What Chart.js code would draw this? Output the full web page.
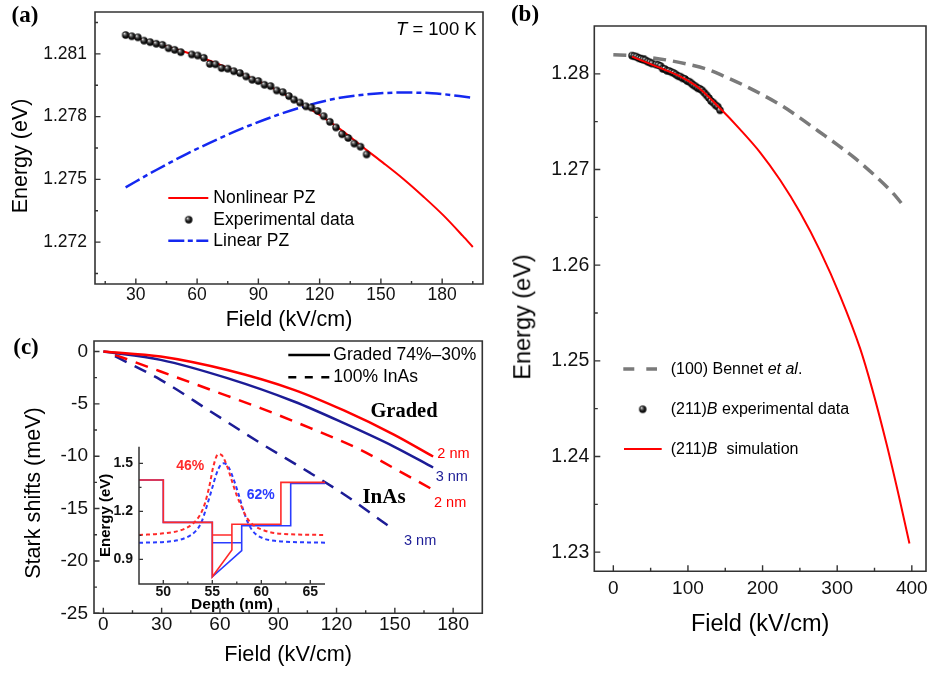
<!DOCTYPE html>
<html><head><meta charset="utf-8">
<script src="https://cdn.jsdelivr.net/npm/chart.js@4.4.1/dist/chart.umd.min.js"></script>
<style>
html,body{margin:0;padding:0;background:#fff;overflow:hidden;}
#wrap{position:relative;width:927px;height:677px;overflow:hidden;background:#fff;font-family:"Liberation Sans",Arial,sans-serif;color:#000;}
#wrap canvas{position:absolute;}
.t{position:absolute;white-space:nowrap;line-height:1;}
.serif{font-family:"Liberation Serif","Times New Roman",serif;font-weight:bold;}
.b{font-weight:bold;}
</style></head><body><div id="wrap">
<canvas id="ca" width="500" height="335" style="left:0;top:0"></canvas>
<canvas id="cb" width="460" height="677" style="left:500px;top:0"></canvas>
<canvas id="cc" width="500" height="347" style="left:0;top:330px"></canvas>
<canvas id="ci" width="235" height="175" style="left:95px;top:440px"></canvas>
</div>
<script>
// ---------- Panel (a) data ----------
const aExpField=[25,28,31,34,37,40,43,46,49,52,57.4,60.3,63.3,66.2,69,72,75,78,81,84,87,90,93,96,99,102,105,107.5,110.4,113.3,116,119,122,125,128,131,134,137,140,143];
const aExpEnergy=[1.28190,1.28184,1.28179,1.28163,1.28156,1.28148,1.28143,1.28127,1.28119,1.28108,1.28097,1.28092,1.28081,1.28052,1.28050,1.28032,1.28029,1.28017,1.28008,1.27992,1.27976,1.27970,1.27952,1.27946,1.27925,1.27917,1.27898,1.27881,1.27867,1.27849,1.27843,1.27827,1.27802,1.27775,1.27748,1.27716,1.27698,1.27671,1.27656,1.27619];
const aNlField=[25,40,60,80,100,113,120,130,143,151,161,171,180.5,190,195];
const aNlEnergy=[1.28190,1.28150,1.28090,1.28012,1.27922,1.27849,1.27808,1.27740,1.27640,1.27580,1.27502,1.27416,1.27329,1.27231,1.27177];
const aLinField=[25,40,55,70,85,100,115,130,145,160,175,195];
const aLinEnergy=[1.27462,1.27545,1.27622,1.27692,1.27755,1.27810,1.27856,1.27890,1.27908,1.27915,1.27912,1.27890];
const aXTicks=[30,60,90,120,150,180];
const aXLabels=['30','60','90','120','150','180'];
const aXMinor=[15,45,75,105,135,165,195];
const aYTicks=[1.272,1.275,1.278,1.281];
const aYLabels=['1.272','1.275','1.278','1.281'];
const aYMinor=[1.2705,1.2735,1.2765,1.2795,1.2825];

// ---------- Panel (b) data ----------
const bBennetField=[0,25,50,75,100,125,150,175,200,225,250,275,300,325,350,375,390];
const bBennetEnergy=[1.2820,1.2819,1.2817,1.2814,1.2810,1.2805,1.2797,1.2788,1.2778,1.2767,1.2754,1.2740,1.2726,1.2711,1.2694,1.2675,1.2661];
const bSimField=[25,60,90,115,143,169.8,196.6,223.5,250.3,277.1,303.9,330.7,346.4,366.5,384.3,396.8];
const bSimEnergy=[1.2818,1.2807,1.2797,1.2785,1.2764,1.2742,1.2718,1.2689,1.2655,1.2615,1.2568,1.2513,1.2472,1.2412,1.2353,1.2309];
const bXTicks=[0,100,200,300,400];
const bXLabels=['0','100','200','300','400'];
const bXMinor=[50,150,250,350];
const bYTicks=[1.23,1.24,1.25,1.26,1.27,1.28];
const bYLabels=['1.23','1.24','1.25','1.26','1.27','1.28'];
const bYMinor=[1.235,1.245,1.255,1.265,1.275];

// ---------- Panel (c) data ----------
const cGradedField=[0,29.5,63.8,98.1,123.8,149.5,169.7];
const cGraded2nm=[0,-0.48,-1.77,-3.66,-5.63,-7.93,-10.03];
const cGraded3nm=[0,-0.80,-2.55,-4.78,-6.85,-9.08,-11.08];
const cInAs2nmField=[6,29.5,55.2,80.9,106.6,132.3,149.5,169.7];
const cInAs2nm=[-0.32,-1.91,-3.66,-5.41,-7.32,-9.39,-11.14,-13.21];
const cInAs3nmField=[6,29.5,55.2,80.9,106.6,125.5,146.1,150];
const cInAs3nm=[-0.45,-2.71,-5.73,-8.76,-11.62,-13.85,-16.56,-17.04];
const cXTicks=[0,30,60,90,120,150,180];
const cXLabels=['0','30','60','90','120','150','180'];
const cXMinor=[15,45,75,105,135,165];
const cYTicks=[-25,-20,-15,-10,-5,0];
const cYLabels=['-25','-20','-15','-10','-5','0'];
const cYMinor=[-22.5,-17.5,-12.5,-7.5,-2.5];

// ---------- Inset data ----------
const iBand46Depth=[47.5,50,50,55,55,57,57,62,62,66.5];
const iBand46Energy=[1.396,1.396,1.131,1.131,0.791,0.958,1.119,1.119,1.381,1.381];
const iBand62Depth=[47.5,50,50,55,55,58,58,63,63,66.5];
const iBand62Energy=[1.396,1.396,1.131,1.131,0.791,0.954,1.110,1.110,1.375,1.375];
const iLevel46Depth=[55,57];
const iLevel46Energy=[1.052,1.052];
const iLevel62Depth=[55,58];
const iLevel62Energy=[1.004,1.004];
const iWave46Depth=[47.52,50.0,52.04,53.06,53.74,54.25,54.76,55.1,55.61,55.95,56.46,56.97,57.48,57.99,58.5,59.18,60.2,61.56,66.5];
const iWave46Energy=[1.052,1.0625,1.0875,1.125,1.177,1.25,1.375,1.479,1.558,1.552,1.49,1.396,1.302,1.229,1.1625,1.115,1.083,1.0625,1.052];
const iWave62Depth=[47.52,50.34,52.38,53.4,53.91,54.42,54.93,55.44,55.85,56.19,56.63,57.14,57.65,58.16,58.67,59.18,60.2,61.56,66.5];
const iWave62Energy=[1.004,1.010,1.0375,1.083,1.135,1.229,1.333,1.4375,1.49,1.5,1.479,1.406,1.3125,1.208,1.125,1.073,1.031,1.015,1.004];
const iXTicks=[50,55,60,65];
const iXLabels=['50','55','60','65'];
const iXMinor=[52.5,57.5,62.5];
const iYTicks=[0.9,1.2,1.5];
const iYLabels=['0.9','1.2','1.5'];
const iYMinor=[1.05,1.35];

// ---------- helpers ----------
const FONT='"Liberation Sans", Arial, sans-serif';
const RED='#ff0000', BLUE='#1428f0', NAVY='#1c1c96', GRAY='#7a7a7a', IRED='#ff2a2a', IBLUE='#2a3cff';
function pts(xs,ys){return xs.map((x,i)=>({x:x,y:ys[i]}));}
function sphere(r){
  const c=document.createElement('canvas');const s=Math.ceil(2*r+2);c.width=c.height=s;
  const g=c.getContext('2d');const cx=s/2,cy=s/2;
  const grd=g.createRadialGradient(cx-r*0.4,cy-r*0.45,r*0.05,cx,cy,r);
  grd.addColorStop(0,'#f2f2f2');grd.addColorStop(0.3,'#6a6a6a');grd.addColorStop(0.65,'#141414');grd.addColorStop(1,'#000');
  g.fillStyle=grd;g.beginPath();g.arc(cx,cy,r,0,Math.PI*2);g.fill();
  return c;
}
const ball=sphere(3.7);
function seg(ctx,x1,y,x2,color,lw,dash){ctx.save();ctx.strokeStyle=color;ctx.lineWidth=lw;ctx.setLineDash(dash||[]);ctx.beginPath();ctx.moveTo(x1,y);ctx.lineTo(x2,y);ctx.stroke();ctx.restore();}
function axis(o){
  return {
    type:'linear',min:o.min,max:o.max,
    grid:{display:false,drawTicks:false,tickLength:0},border:{display:false},
    afterBuildTicks(s){s.ticks=o.ticks.map(v=>({value:v}));},
    afterFit(s){ if(o.w!=null)s.width=o.w; if(o.h!=null)s.height=o.h; s.paddingTop=0;s.paddingBottom=0;s.paddingLeft=0;s.paddingRight=0;},
    ticks:{autoSkip:false,maxRotation:0,minRotation:0,padding:o.pad,color:'#111',
      font:{family:FONT,size:o.fs,lineHeight:1,weight:o.bold?'bold':'normal'},
      callback:(v,i)=>o.labels[i]},
    title:o.title?{display:true,text:o.title,color:'#000',font:{family:FONT,size:o.tfs,lineHeight:1,weight:o.bold?'bold':'normal'},padding:o.tpad}:{display:false}
  };
}
function frame(o){
  return {id:'frame',afterDatasetsDraw(chart){
    const ctx=chart.ctx,a=chart.chartArea,xs=chart.scales.x,ys=chart.scales.y;
    ctx.save();ctx.setLineDash([]);ctx.strokeStyle='#333';ctx.lineWidth=o.lw||1.6;
    ctx.beginPath();
    if(o.box){ctx.rect(a.left,a.top,a.right-a.left,a.bottom-a.top);}
    else{ctx.moveTo(a.left,a.top);ctx.lineTo(a.left,a.bottom);ctx.lineTo(a.right,a.bottom);}
    ctx.stroke();
    ctx.lineWidth=o.tw||1.4;ctx.beginPath();
    const tx=(vals,len)=>vals.forEach(v=>{const p=xs.getPixelForValue(v);ctx.moveTo(p,a.bottom);ctx.lineTo(p,a.bottom-len);});
    const ty=(vals,len)=>vals.forEach(v=>{const p=ys.getPixelForValue(v);ctx.moveTo(a.left,p);ctx.lineTo(a.left+len,p);});
    tx(o.xMajor,o.major);tx(o.xMinor,o.minor);ty(o.yMajor,o.major);ty(o.yMinor,o.minor);
    ctx.stroke();
    if(o.decor)o.decor(ctx);
    ctx.restore();
  }};
}
function base(padding,x,y){
  return {responsive:false,animation:false,events:[],
    plugins:{legend:{display:false},tooltip:{enabled:false}},
    layout:{padding:padding},scales:{x:x,y:y}};
}
function line(data,color,lw,dash,smooth){
  return {data:data,showLine:true,borderColor:color,borderWidth:lw,borderDash:dash||[],pointRadius:0,pointHoverRadius:0,fill:false,
    cubicInterpolationMode:smooth?'monotone':'default',tension:0};
}

// ---------- Chart (a) ----------
new Chart(document.getElementById('ca'),{
  type:'scatter',
  data:{datasets:[
    {data:pts(aExpField,aExpEnergy),showLine:false,pointStyle:ball,pointRadius:4,pointHoverRadius:4},
    line(pts(aNlField,aNlEnergy),RED,2,[],true),
    line(pts(aLinField,aLinEnergy),BLUE,2.5,[16,4,5,4],true)
  ]},
  options:base({left:0,top:12,right:17,bottom:0},
    axis({min:10,max:200,ticks:aXTicks,labels:aXLabels,h:51,pad:2,fs:17.5,title:'Field (kV/cm)',tfs:21.5,tpad:{top:0,bottom:4.25}}),
    axis({min:1.270,max:1.283,ticks:aYTicks,labels:aYLabels,w:95,pad:8,fs:17.5})),
  plugins:[frame({box:true,major:5.5,minor:3,xMajor:aXTicks,xMinor:aXMinor,yMajor:aYTicks,yMinor:aYMinor,
    decor(ctx){
      seg(ctx,168.3,198,208.3,RED,2);
      ctx.drawImage(ball,188.7-ball.width/2,219.7-ball.height/2);
      seg(ctx,168.3,240.7,208.3,BLUE,2.5,[16,3.5,5,3.5]);
    }})]
});

// ---------- Chart (b) ----------
new Chart(document.getElementById('cb'),{
  type:'scatter',
  data:{datasets:[
    line(pts(bSimField,bSimEnergy),RED,2,[],true),
    {data:pts(aExpField,aExpEnergy),showLine:false,pointStyle:ball,pointRadius:4,pointHoverRadius:4},
    line(pts(bBennetField,bBennetEnergy),GRAY,3.5,[13,7],true)
  ]},
  options:base({left:0,top:26,right:34,bottom:0},
    axis({min:-25.5,max:419,ticks:bXTicks,labels:bXLabels,h:105.7,pad:7.5,fs:19,title:'Field (kV/cm)',tfs:23.5,tpad:{top:0,bottom:40.25}}),
    axis({min:1.228,max:1.285,ticks:bYTicks,labels:bYLabels,w:94.3,pad:5,fs:19.5})),
  plugins:[frame({box:true,major:6,minor:3.5,xMajor:bXTicks,xMinor:bXMinor,yMajor:bYTicks,yMinor:bYMinor,
    decor(ctx){
      seg(ctx,123.3,369,157,GRAY,3.5,[11,12]);
      ctx.drawImage(ball,142.7-ball.width/2,409.3-ball.height/2);
      seg(ctx,124,449,161.7,RED,2);
    }})]
});

// ---------- Chart (c) ----------
new Chart(document.getElementById('cc'),{
  type:'scatter',
  data:{datasets:[
    line(pts(cGradedField,cGraded2nm),RED,2.5,[],true),
    line(pts(cGradedField,cGraded3nm),NAVY,2.5,[],true),
    line(pts(cInAs2nmField,cInAs2nm),RED,2.5,[13,9],true),
    line(pts(cInAs3nmField,cInAs3nm),NAVY,2.5,[13,9],true)
  ]},
  options:base({left:0,top:11,right:17.7,bottom:0},
    axis({min:-4.8,max:195,ticks:cXTicks,labels:cXLabels,h:63.7,pad:2.2,fs:19,title:'Field (kV/cm)',tfs:21.7,tpad:{top:0,bottom:11.15}}),
    axis({min:-25,max:1.0,ticks:cYTicks,labels:cYLabels,w:94,pad:6,fs:19})),
  plugins:[frame({box:true,major:5.5,minor:3,xMajor:cXTicks,xMinor:cXMinor,yMajor:cYTicks,yMinor:cYMinor,
    decor(ctx){
      seg(ctx,288.3,25,330,'#000',2.5);
      seg(ctx,288.3,47.3,330,'#000',2.5,[8,8.5]);
    }})]
});

// ---------- Inset ----------
new Chart(document.getElementById('ci'),{
  type:'scatter',
  data:{datasets:[
    line(pts(iLevel46Depth,iLevel46Energy),IRED,1.5,[],false),
    line(pts(iBand46Depth,iBand46Energy),IRED,1.6,[],false),
    line(pts(iWave46Depth,iWave46Energy),IRED,2,[4,3],true),
    line(pts(iLevel62Depth,iLevel62Energy),IBLUE,1.5,[],false),
    line(pts(iBand62Depth,iBand62Energy),IBLUE,1.6,[],false),
    line(pts(iWave62Depth,iWave62Energy),IBLUE,2,[4,3],true)
  ]},
  options:base({left:0,top:6.7,right:5,bottom:0},
    axis({min:47.52,max:66.5,ticks:iXTicks,labels:iXLabels,h:31,pad:0.7,fs:14,bold:true,title:'Depth (nm)',tfs:15.5,tpad:{top:0,bottom:2.25}}),
    axis({min:0.746,max:1.604,ticks:iYTicks,labels:iYLabels,w:44,pad:6,fs:14,bold:true,title:'Energy (eV)',tfs:15,tpad:{top:3.5,bottom:0}})),
  plugins:[frame({box:false,lw:1.5,tw:1.3,major:4,minor:2.5,xMajor:iXTicks,xMinor:iXMinor,yMajor:iYTicks,yMinor:iYMinor})]
});

// ---------- Text overlays ----------
const texts=[
  {h:'(a)',x:25,y:14,fs:23,cls:'serif',a:'c'},
  {h:'<i>T</i> = 100 K',x:476.7,y:29.3,fs:18.5,a:'r'},
  {h:'Nonlinear PZ',x:213.3,y:198,fs:17.5,a:'l'},
  {h:'Experimental data',x:213.3,y:219.7,fs:17.5,a:'l'},
  {h:'Linear PZ',x:213.3,y:240.7,fs:17.5,a:'l'},
  {h:'Energy (eV)',x:20.5,y:156,fs:21.5,a:'c',rot:true},
  {h:'(b)',x:525,y:13.3,fs:23,cls:'serif',a:'c'},
  {h:'Energy (eV)',x:523,y:317,fs:23.5,a:'c',rot:true},
  {h:'(100) Bennet <i>et al</i>.',x:670.7,y:369,fs:16,a:'l'},
  {h:'(211)<i>B</i> experimental data',x:670.7,y:409.3,fs:16,a:'l'},
  {h:'(211)<i>B</i>&nbsp; simulation',x:670.7,y:449,fs:16,a:'l'},
  {h:'(c)',x:26,y:345.8,fs:23,cls:'serif',a:'c'},
  {h:'Stark shifts (meV)',x:33.3,y:492.5,fs:21.6,a:'c',rot:true},
  {h:'Graded 74%–30%',x:333.3,y:355,fs:17.5,a:'l'},
  {h:'100% InAs',x:333.3,y:377.3,fs:17.5,a:'l'},
  {h:'Graded',x:404,y:410,fs:20.5,cls:'serif',a:'c'},
  {h:'InAs',x:384,y:495.7,fs:21,cls:'serif',a:'c'},
  {h:'2 nm',x:437.3,y:453.3,fs:14.5,a:'l',c:RED},
  {h:'3 nm',x:435.7,y:476,fs:14.5,a:'l',c:NAVY},
  {h:'2 nm',x:434,y:501.7,fs:14.5,a:'l',c:RED},
  {h:'3 nm',x:404,y:540,fs:14.5,a:'l',c:NAVY},
  {h:'46%',x:190.3,y:465,fs:14,cls:'b',a:'c',c:IRED},
  {h:'62%',x:260.7,y:494,fs:14,cls:'b',a:'c',c:IBLUE}
];
const wrap=document.getElementById('wrap');
texts.forEach(o=>{
  const s=document.createElement('span');
  s.className='t'+(o.cls?' '+o.cls:'');
  s.innerHTML=o.h;
  s.style.left=o.x+'px';s.style.top=o.y+'px';s.style.fontSize=o.fs+'px';
  if(o.c)s.style.color=o.c;
  const tx=o.a==='l'?'0':(o.a==='r'?'-100%':'-50%');
  s.style.transform='translate('+tx+',-50%)'+(o.rot?' rotate(-90deg)':'');
  wrap.appendChild(s);
});
</script>
</body></html>
